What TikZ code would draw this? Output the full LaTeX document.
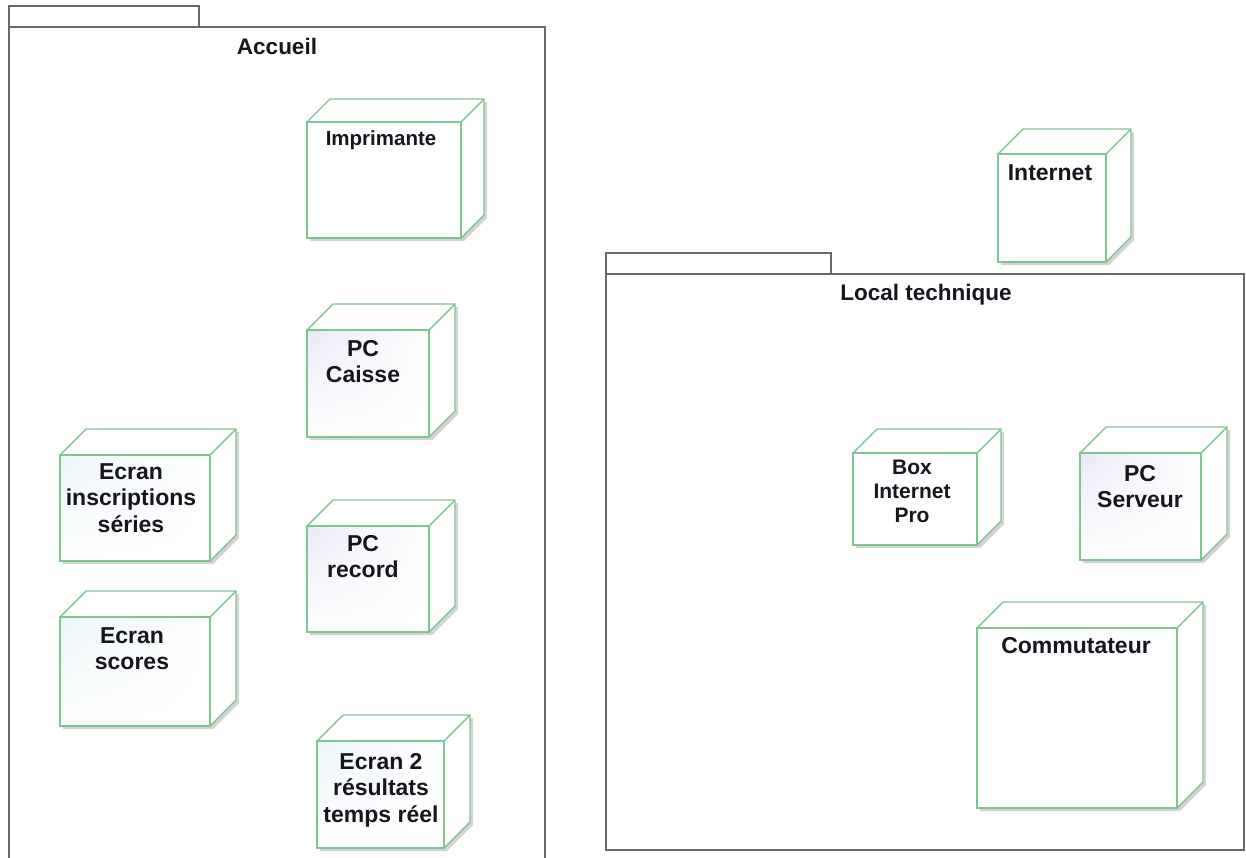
\documentclass[tikz,border=0pt]{standalone}
\usepackage{fontspec}
\setmainfont{Liberation Sans}
\usetikzlibrary{shadings}
\definecolor{nodegreen}{RGB}{128,196,146}
\definecolor{pkggray}{RGB}{105,105,105}
\definecolor{shadowgray}{RGB}{212,212,212}
\definecolor{tintlav}{RGB}{234,234,248}
\definecolor{tintcyan}{RGB}{236,246,248}
\definecolor{labelink}{RGB}{25,20,30}
\tikzset{
  devline/.style={draw=nodegreen, line width=1.4pt, line join=miter},
  devface/.style={devline, fill=white, inner sep=0pt, outer sep=0pt},
  pkgline/.style={draw=pkggray, line width=1.3pt},
  biglabel/.style={font=\fontsize{23}{26.5}\selectfont\bfseries, align=center,
    inner sep=0pt, anchor=north, text=labelink},
  smalllabel/.style={font=\fontsize{20.5}{24}\selectfont\bfseries, align=center,
    inner sep=0pt, anchor=north, text=labelink},
  pkgtitle/.style={font=\fontsize{22.5}{26}\selectfont\bfseries,
    inner sep=0pt, anchor=north, text=labelink},
}
% #1 name, #2 left, #3 top, #4 right, #5 bottom (front face), #6 depth, #7 tint
\newcommand\devbox[7]{%
  \fill[shadowgray] (#2+3,#5+3) -- (#4+3,#5+3) -- (#4+#6+3,#5-#6+3)
    -- (#4+#6+3,#3-#6+3) -- (#2+#6+3,#3-#6+3) -- (#2+3,#3+3) -- cycle;
  \fill[white] (#2,#5) -- (#4,#5) -- (#4+#6,#5-#6)
    -- (#4+#6,#3-#6) -- (#2+#6,#3-#6) -- (#2,#3) -- cycle;
  \node[devface, minimum width={(#4-#2)*1pt}, minimum height={(#5-#3)*1pt}]
    (#1) at ({(#2+#4)/2},{(#3+#5)/2}) {};
  \shade[upper left=#7, upper right=white, lower left=white, lower right=white]
    (#1.north west) rectangle (#1.south east);
  \draw[devline] (#1.north west) rectangle (#1.south east);
  \draw[devline] (#1.north west) -- ++(#6,-#6)
    -- ([shift={(#6,-#6)}]#1.north east)
    -- ([shift={(#6,-#6)}]#1.south east) -- (#1.south east)
    (#1.north east) -- ++(#6,-#6);
}
\begin{document}
\begin{tikzpicture}[x=1pt, y=-1pt]
\clip (0,0) rectangle (1246,857);
\fill[white] (0,0) rectangle (1246,857);

% package: Accueil
\draw[pkgline] (9,27) -- (9,6) -- (199,6) -- (199,27);
\draw[pkgline] (9,870) -- (9,27) -- (545,27) -- (545,870);
\node[pkgtitle] (accueil) at (277,38) {Accueil};

% package: Local technique
\draw[pkgline] (606,274) -- (606,253) -- (831,253) -- (831,274);
\draw[pkgline] (606,274) rectangle (1244,850);
\node[pkgtitle] (localtech) at (926,284) {Local technique};

% devices in Accueil
\devbox{imprimante}{307}{122}{461}{238}{23}{white}
\node[smalllabel] (limprimante) at (381,130) {Imprimante};

\devbox{caisse}{307}{330}{429}{437}{26}{tintlav}
\node[biglabel] (lcaisse) at (363,340) {PC\\Caisse};

\devbox{inscr}{60}{455}{210}{561}{26}{tintcyan}
\node[biglabel] (linscr) at (131,463) {Ecran\\inscriptions\\séries};

\devbox{record}{307}{526}{429}{632}{26}{tintlav}
\node[biglabel] (lrecord) at (363,535) {PC\\record};

\devbox{scores}{60}{617}{210}{726}{26}{tintcyan}
\node[biglabel] (lscores) at (132,627) {Ecran\\scores};

\devbox{ecran2}{317}{741}{444}{848}{26}{tintcyan}
\node[biglabel] (lecran2) at (381,753) {Ecran 2\\résultats\\temps réel};

% devices outside / in Local technique
\devbox{internet}{998}{154}{1106}{262}{25}{white}
\node[biglabel] (linternet) at (1050,164) {Internet};

\devbox{box}{853}{453}{977}{545}{24}{white}
\node[smalllabel, font=\fontsize{21}{24}\selectfont\bfseries] (lbox) at (912,460) {Box\\Internet\\Pro};

\devbox{serveur}{1080}{453}{1201}{560}{26}{tintlav}
\node[biglabel] (lserveur) at (1140,465) {PC\\Serveur};

\devbox{commut}{977}{628}{1177}{808}{26}{white}
\node[biglabel] (lcommut) at (1076,637) {Commutateur};
\end{tikzpicture}
\end{document}
